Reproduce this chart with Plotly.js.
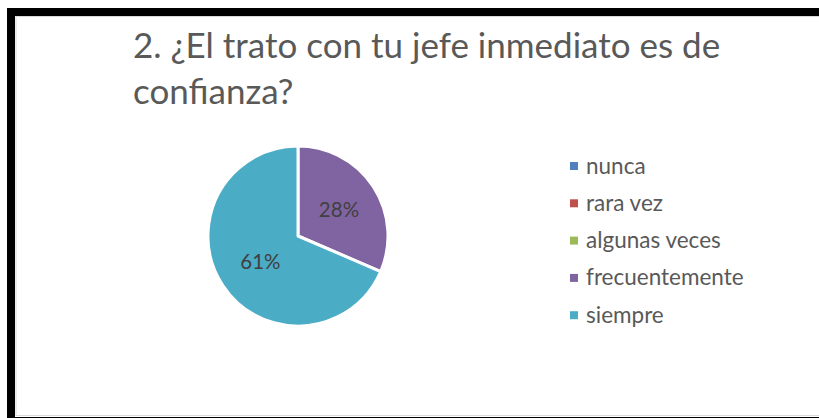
<!DOCTYPE html>
<html>
<head>
<meta charset="utf-8">
<script src="https://cdn.plot.ly/plotly-3.0.1.min.js"></script>
<style>html,body{margin:0;padding:0;background:#fff;}#chart{width:819px;height:418px;}</style>
</head>
<body>
<div id="chart"></div>
<script>
const categories = ["nunca", "rara vez", "algunas veces", "frecuentemente", "siempre"];
const values = [0, 0, 0, 28, 61];
const colors = ["#4F81BD", "#C0504D", "#9BBB59", "#8064A2", "#4BACC6"];
const labelsText = values.map(v => v > 0 ? v + "%" : "");
const titleText = "2. ¿El trato con tu jefe inmediato es de<br>confianza?";

const W = 819, H = 418;
const fontFam = "Lato, 'Open Sans', sans-serif";

const trace = {
  type: "pie",
  labels: categories,
  values: values,
  text: labelsText,
  textinfo: "text",
  textposition: "inside",
  insidetextorientation: "horizontal",
  sort: false,
  direction: "clockwise",
  rotation: 0,
  marker: {colors: colors, line: {color: "#ffffff", width: 3}},
  textfont: {family: fontFam, size: 20.5, color: "#404040"},
  showlegend: false,
  hoverinfo: "label+value",
  domain: {x: [208 / W, 388 / W], y: [(H - 326) / H, (H - 146) / H]}
};

// legend drawn from categories/colors
const annotations = [];
const shapes = [];
const legTop = 166, legStep = 37.3;
categories.forEach((c, i) => {
  const yc = legTop + i * legStep;
  annotations.push({
    xref: "paper", yref: "paper", x: 584 / W, y: (H - yc + 1) / H,
    xanchor: "left", yanchor: "middle", showarrow: false,
    text: c, font: {family: fontFam, size: 22.5, color: "#595959"}
  });
  shapes.push({
    type: "rect", xref: "paper", yref: "paper",
    x0: 570 / W, x1: 578 / W, y0: (H - yc - 4) / H, y1: (H - yc + 4) / H,
    fillcolor: colors[i], line: {width: 0}
  });
});
// frame
shapes.push({type: "rect", xref: "paper", yref: "paper",
  x0: 11 / W, x1: 840 / W, y0: (H - 421) / H, y1: (H - 12) / H,
  line: {color: "#000000", width: 8}, fillcolor: "rgba(0,0,0,0)", layer: "below"});
shapes.push({type: "rect", xref: "paper", yref: "paper",
  x0: 16 / W, x1: 840 / W, y0: (H - 415.5) / H, y1: (H - 16.5) / H,
  line: {color: "#d9d9d9", width: 1}, fillcolor: "rgba(0,0,0,0)", layer: "below"});

const layout = {
  width: W, height: H,
  margin: {l: 0, r: 0, t: 0, b: 0},
  paper_bgcolor: "#ffffff",
  plot_bgcolor: "#ffffff",
  showlegend: false,
  title: {
    text: titleText,
    x: 133 / W, xanchor: "left", xref: "container",
    y: 1 - 58 / H, yanchor: "top", yref: "container",
    font: {family: fontFam, size: 35, color: "#595959"}
  },
  annotations: annotations,
  shapes: shapes
};

Plotly.newPlot("chart", [trace], layout, {displayModeBar: false, staticPlot: true});
</script>
</body>
</html>
